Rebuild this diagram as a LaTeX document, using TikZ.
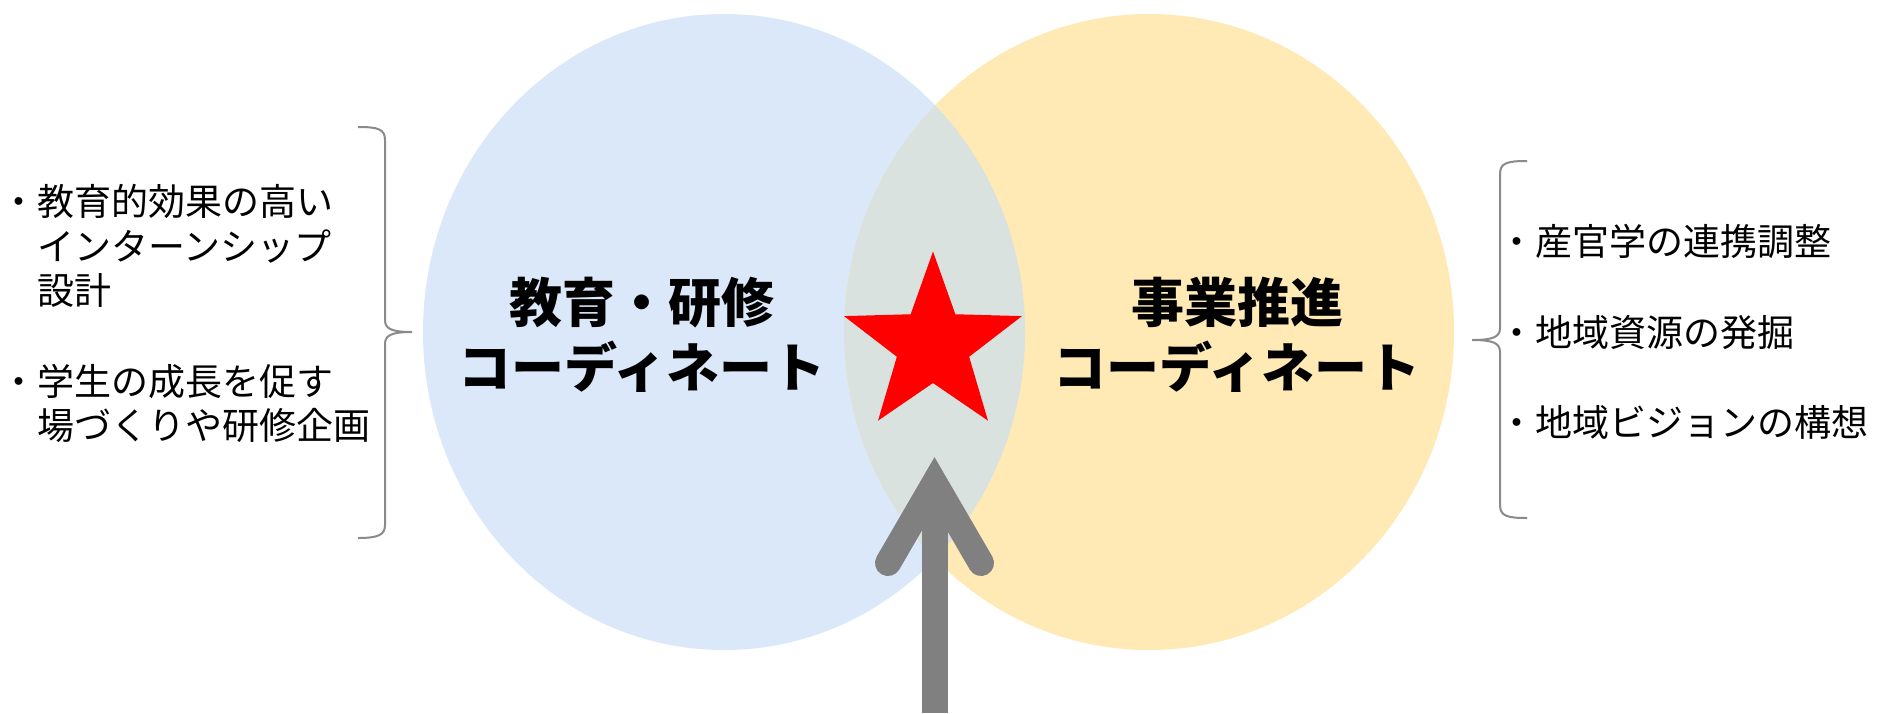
\documentclass[tikz,border=0pt]{standalone}
\usepackage{fontspec}
\setmainfont{Noto Sans CJK JP}
\usetikzlibrary{shapes.geometric}
\definecolor{blueA}{HTML}{DAE8FA}
\definecolor{yellowA}{HTML}{FFE9B5}
\definecolor{overA}{HTML}{DAE2E0}
\definecolor{arrowgray}{HTML}{808080}
\definecolor{bracegray}{HTML}{8A8A8A}
\begin{document}
\begin{tikzpicture}[x=1pt,y=-1pt,
  bigtxt/.style={font=\fontsize{53}{65}\selectfont\bfseries, align=center, inner sep=0pt},
  itemtxt/.style={font=\fontsize{37}{44.5}\selectfont, align=left, inner sep=0pt, anchor=west},
  bracestyle/.style={draw=bracegray, line width=2pt},
  arrowline/.style={draw=arrowgray, line width=26pt}]
\useasboundingbox (0,0) rectangle (1877,713);
\fill[white] (0,0) rectangle (1877,713);
% circles
\node[ellipse, minimum width=602pt, minimum height=636pt, inner sep=0pt, fill=blueA] (edu) at (724,332) {};
\node[ellipse, minimum width=610pt, minimum height=636pt, inner sep=0pt, fill=yellowA] (biz) at (1149,332) {};
\begin{scope}
  \clip (724,332) ellipse [x radius=301pt, y radius=318pt];
  \fill[overA] (1149,332) ellipse [x radius=305pt, y radius=318pt];
\end{scope}
% titles
\node[bigtxt] (edutxt) at (642,335) {教育・研修\\コーディネート};
\node[bigtxt] (biztxt) at (1237,335) {事業推進\\コーディネート};
% star
\node[star, star points=5, star point ratio=2.46, minimum size=187pt, inner sep=0pt, fill=red] (star) at (933,345) {};
% arrow
\coordinate (src) at (934.5,713);
\coordinate (tip) at (934.5,483);
\coordinate (armL) at (888,563);
\coordinate (armR) at (981,563);
\draw[arrowline] (src) -- (tip);
\draw[arrowline, line cap=round, line join=miter] (armL) -- (tip) -- (armR);
% left bracket
\draw[bracestyle] (358,127) .. controls (378,127) and (385,129) .. (385,140) -- (385,320)
  .. controls (385,329) and (392,332) .. (412,332)
  .. controls (392,332) and (385,335) .. (385,344) -- (385,525)
  .. controls (385,535) and (378,538) .. (358,538);
% right bracket
\draw[bracestyle] (1527,161) .. controls (1507,161) and (1500,163) .. (1500,174) -- (1500,328)
  .. controls (1500,337) and (1493,340) .. (1472,340)
  .. controls (1493,340) and (1500,343) .. (1500,352) -- (1500,505)
  .. controls (1500,516) and (1507,518) .. (1527,518);
% left items
\node[itemtxt] (l1) at (0,246) {・教育的効果の高い\\\phantom{・}インターンシップ\\\phantom{・}設計};
\node[itemtxt] (l2) at (0,403.5) {・学生の成長を促す\\\phantom{・}場づくりや研修企画};
% right items
\node[itemtxt] (r1) at (1498,241) {・産官学の連携調整};
\node[itemtxt] (r2) at (1498,333) {・地域資源の発掘};
\node[itemtxt] (r3) at (1498,422) {・地域ビジョンの構想};
\end{tikzpicture}
\end{document}
